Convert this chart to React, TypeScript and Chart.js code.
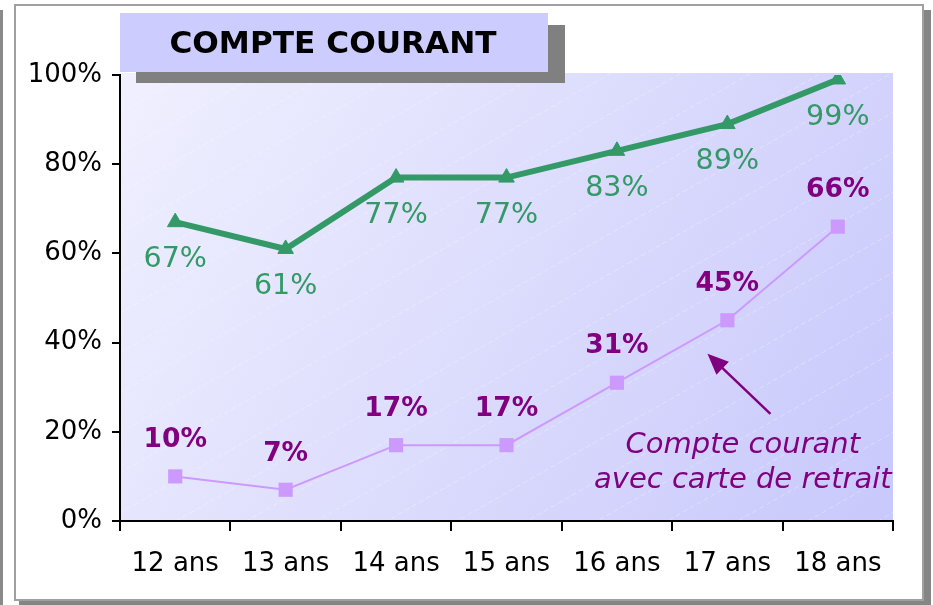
import React, { useEffect, useRef } from "react";
import { Chart, registerables } from "chart.js";

Chart.register(...registerables);

const categories = ["12 ans", "13 ans", "14 ans", "15 ans", "16 ans", "17 ans", "18 ans"];
const compteCourant = [67, 61, 77, 77, 83, 89, 99];
const avecCarte = [10, 7, 17, 17, 31, 45, 66];
const yTicks = [0, 20, 40, 60, 80, 100];
const titleText = "COMPTE COURANT";
const annotationLines = ["Compte courant", "avec carte de retrait"];
// annotation anchors in data units [category index, percent]
const arrowFrom = [5.39, 24];
const arrowTo = [4.82, 37.5];
const annotationTextPos = [[5.14, 17], [5.14, 9]];

const GREEN = "#339966";
const LILAC = "#cc99ff";
const PURPLE = "#800080";
const FONT = "'DejaVu Sans', Verdana, sans-serif";

function drawStretchedText(ctx: CanvasRenderingContext2D, text: string, x: number, y: number, sx: number) {
  ctx.save();
  ctx.translate(x, y);
  ctx.scale(sx, 1);
  ctx.fillText(text, 0, 0);
  ctx.restore();
}

const decorPlugin = {
  id: "decor",
  beforeDraw(chart: any) {
    const ctx: CanvasRenderingContext2D = chart.ctx;
    const W = chart.width;
    const H = chart.height;
    const ca = chart.chartArea;
    ctx.save();
    ctx.fillStyle = "#ffffff";
    ctx.fillRect(0, 0, W, H);
    // left gray strip
    ctx.fillStyle = "#8a8a8a";
    ctx.fillRect(0, 10, 3, H - 10);
    // frame shadow
    ctx.fillStyle = "#858585";
    ctx.fillRect(19, 10, 912, 595);
    // frame
    ctx.fillStyle = "#ffffff";
    ctx.fillRect(14, 4, 910, 597);
    ctx.strokeStyle = "#a0a0a0";
    ctx.lineWidth = 2;
    ctx.strokeRect(15, 5, 908, 595);
    // plot background gradient
    const top = ca.top - 2;
    const g = ctx.createLinearGradient(ca.left, top, ca.right, ca.bottom);
    g.addColorStop(0, "#f0f0ff");
    g.addColorStop(0.5, "#dcdcfd");
    g.addColorStop(1, "#c8c8fc");
    ctx.fillStyle = g;
    ctx.fillRect(ca.left, top, ca.right - ca.left, ca.bottom - top);
    // faint hatch lines
    ctx.beginPath();
    ctx.rect(ca.left, top, ca.right - ca.left, ca.bottom - top);
    ctx.clip();
    ctx.strokeStyle = "rgba(255,255,255,0.3)";
    ctx.lineWidth = 1;
    ctx.setLineDash([5, 3]);
    const slope = 0.57;
    const w = ca.right - ca.left;
    for (let y0 = top; y0 < ca.bottom + w * slope + 40; y0 += 40) {
      ctx.beginPath();
      ctx.moveTo(ca.left, y0);
      ctx.lineTo(ca.right, y0 - w * slope);
      ctx.stroke();
    }
    ctx.restore();
  },
  afterDatasetsDraw(chart: any) {
    const ctx: CanvasRenderingContext2D = chart.ctx;
    const xs = chart.scales.x;
    const ys = chart.scales.y;
    ctx.save();
    ctx.textAlign = "center";
    ctx.textBaseline = "middle";
    // green labels below points
    const m0 = chart.getDatasetMeta(0);
    ctx.fillStyle = GREEN;
    ctx.font = `28px ${FONT}`;
    m0.data.forEach((pt: any, i: number) => {
      drawStretchedText(ctx, compteCourant[i] + "%", pt.x, pt.y + 38, 1.02);
    });
    // purple labels above points
    const m1 = chart.getDatasetMeta(1);
    ctx.fillStyle = PURPLE;
    ctx.font = `bold 26px ${FONT}`;
    m1.data.forEach((pt: any, i: number) => {
      drawStretchedText(ctx, avecCarte[i] + "%", pt.x, pt.y - 36, 1.02);
    });
    // annotation arrow
    const fx = xs.getPixelForValue(arrowFrom[0]);
    const fy = ys.getPixelForValue(arrowFrom[1]);
    const tx = xs.getPixelForValue(arrowTo[0]);
    const ty = ys.getPixelForValue(arrowTo[1]);
    const ang = Math.atan2(ty - fy, tx - fx);
    const headLen = 21;
    const headW = 9;
    ctx.strokeStyle = PURPLE;
    ctx.fillStyle = PURPLE;
    ctx.lineWidth = 2.5;
    ctx.beginPath();
    ctx.moveTo(fx, fy);
    ctx.lineTo(tx - Math.cos(ang) * headLen * 0.8, ty - Math.sin(ang) * headLen * 0.8);
    ctx.stroke();
    const bx = tx - Math.cos(ang) * headLen;
    const by = ty - Math.sin(ang) * headLen;
    ctx.beginPath();
    ctx.moveTo(tx, ty);
    ctx.lineTo(bx + Math.cos(ang + Math.PI / 2) * headW, by + Math.sin(ang + Math.PI / 2) * headW);
    ctx.lineTo(bx - Math.cos(ang + Math.PI / 2) * headW, by - Math.sin(ang + Math.PI / 2) * headW);
    ctx.closePath();
    ctx.fill();
    // annotation text
    ctx.font = `italic 29px ${FONT}`;
    annotationLines.forEach((line, i) => {
      const p = annotationTextPos[i];
      drawStretchedText(ctx, line, xs.getPixelForValue(p[0]), ys.getPixelForValue(p[1]), 1.0);
    });
    ctx.restore();
  },
  afterDraw(chart: any) {
    const ctx: CanvasRenderingContext2D = chart.ctx;
    ctx.save();
    // title shadow
    ctx.fillStyle = "#808080";
    ctx.fillRect(136, 25, 429, 58);
    // title box
    ctx.fillStyle = "#ccccff";
    ctx.fillRect(120, 13, 428, 59);
    ctx.fillStyle = "#000000";
    ctx.font = `bold 30px ${FONT}`;
    ctx.textAlign = "center";
    ctx.textBaseline = "middle";
    drawStretchedText(ctx, titleText, 333, 45, 1.04);
    ctx.restore();
  },
};

export default function App() {
  const ref = useRef<HTMLCanvasElement | null>(null);
  useEffect(() => {
    if (!ref.current) return;
    const chart = new Chart(ref.current, {
      type: "line",
      data: {
        labels: categories,
        datasets: [
          {
            label: "Compte courant",
            data: compteCourant,
            borderColor: GREEN,
            backgroundColor: GREEN,
            borderWidth: 6,
            pointStyle: "triangle",
            pointRadius: 9,
            pointBorderWidth: 1,
            tension: 0,
          },
          {
            label: "Compte courant avec carte de retrait",
            data: avecCarte,
            borderColor: LILAC,
            backgroundColor: LILAC,
            borderWidth: 2,
            pointStyle: "rect",
            pointRadius: 10,
            pointBorderWidth: 0,
            tension: 0,
          },
        ],
      },
      options: {
        responsive: false,
        devicePixelRatio: 1,
        animation: false,
        layout: { padding: { top: 75, right: 40, bottom: 0, left: 0 } },
        plugins: {
          legend: { display: false },
          title: { display: false },
          tooltip: { enabled: false },
        },
        scales: {
          x: {
            type: "category",
            offset: true,
            grid: {
              offset: true,
              drawOnChartArea: false,
              drawTicks: true,
              tickLength: 10,
              color: "#000000",
              lineWidth: 2,
            },
            border: { display: true, color: "#000000", width: 2 },
            ticks: {
              color: "#000000",
              font: { family: FONT, size: 26 },
              padding: 18,
              maxRotation: 0,
              autoSkip: false,
            },
            afterFit: (s: any) => {
              s.height = 84;
            },
          },
          y: {
            min: 0,
            max: 100,
            afterBuildTicks: (s: any) => {
              s.ticks = yTicks.map((v) => ({ value: v }));
            },
            grid: {
              drawOnChartArea: false,
              drawTicks: true,
              tickLength: 8,
              color: "#000000",
              lineWidth: 2,
            },
            border: { display: true, color: "#000000", width: 2 },
            ticks: {
              color: "#000000",
              font: { family: FONT, size: 26 },
              padding: 10,
              callback: (v: any) => v + "%",
            },
            afterFit: (s: any) => {
              s.width = 120;
            },
          },
        },
      },
      plugins: [decorPlugin],
    });
    return () => chart.destroy();
  }, []);
  return (
    <div style={{ position: "fixed", left: 0, top: 0, width: 933, height: 605 }}>
      <canvas ref={ref} width={933} height={605} style={{ width: 933, height: 605, display: "block" }} />
    </div>
  );
}
